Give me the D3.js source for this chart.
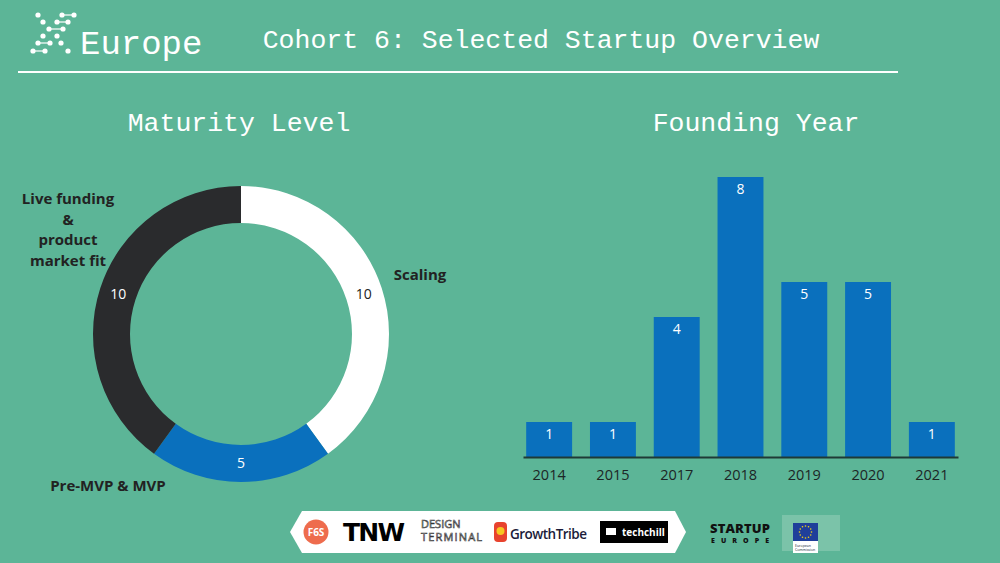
<!DOCTYPE html>
<html>
<head>
<meta charset="utf-8">
<script src="https://cdn.jsdelivr.net/npm/d3@7"></script>
<style>
  html, body { margin: 0; padding: 0; background: #5cb597; }
  svg { display: block; }
</style>
</head>
<body>
<svg id="chart" width="1000" height="563"></svg>
<script>
(function () {
    'use strict';

    // maturity level (donut)
    var maturityLabels = ['Scaling', 'Pre-MVP & MVP', 'Live funding & product market fit'];
    var maturityValues = [10, 5, 10];
    var maturityColors = ['#ffffff', '#0a70bd', '#2a2b2d'];

    // founding year (bars)
    var years = ['2014', '2015', '2017', '2018', '2019', '2020', '2021'];
    var yearCounts = [1, 1, 4, 8, 5, 5, 1];

    var bg = '#5cb597';
    var mono = '"Liberation Mono", "DejaVu Sans Mono", monospace';
    var sans = '"Open Sans", Lato, sans-serif';

    var svg = d3.select('#chart');
    svg.append('rect').attr('width', 1000).attr('height', 563).attr('fill', bg);

    // ---- header ----
    var dots = [[38,15],[62,15],[74,15],[43,22],[57,22],[68,22],[49,29],[63,29],
                [43,36],[57,36],[38,43],[50,43],[61,43],[33,51],[45,51],[68,51]];
    var links = [[62,74,15],[57,68,22],[49,63,29],[38,50,43],[33,45,51]];
    var logo = svg.append('g');
    logo.selectAll('line').data(links).enter().append('line')
        .attr('x1', function (d) { return d[0]; })
        .attr('x2', function (d) { return d[1]; })
        .attr('y1', function (d) { return d[2]; })
        .attr('y2', function (d) { return d[2]; })
        .attr('stroke', '#fff').attr('stroke-width', 1.2);
    logo.selectAll('circle').data(dots).enter().append('circle')
        .attr('cx', function (d) { return d[0]; })
        .attr('cy', function (d) { return d[1]; })
        .attr('r', 2.6).attr('fill', '#fff');

    svg.append('text').text('Europe')
        .attr('x', 80).attr('y', 54)
        .attr('font-family', mono).attr('font-size', 34)
        .attr('fill', '#fff');

    svg.append('text').text('Cohort 6: Selected Startup Overview')
        .attr('x', 541).attr('y', 48).attr('text-anchor', 'middle')
        .attr('font-family', mono).attr('font-size', 26.5)
        .attr('fill', '#fff');

    svg.append('line')
        .attr('x1', 18).attr('x2', 898).attr('y1', 72).attr('y2', 72)
        .attr('stroke', '#fff').attr('stroke-width', 2);

    svg.append('text').text('Maturity Level')
        .attr('x', 239).attr('y', 131).attr('text-anchor', 'middle')
        .attr('font-family', mono).attr('font-size', 26.5).attr('fill', '#fff');

    svg.append('text').text('Founding Year')
        .attr('x', 756).attr('y', 131).attr('text-anchor', 'middle')
        .attr('font-family', mono).attr('font-size', 26.5).attr('fill', '#fff');

    // ---- donut ----
    var cx = 241, cy = 334, rOut = 148, rIn = 111;
    var pie = d3.pie().sort(null).value(function (d) { return d; });
    var arcs = pie(maturityValues);
    var arc = d3.arc().innerRadius(rIn).outerRadius(rOut);
    var labelArc = d3.arc().innerRadius(129).outerRadius(129);

    var donut = svg.append('g').attr('transform', 'translate(' + cx + ',' + cy + ')');
    donut.selectAll('path').data(arcs).enter().append('path')
        .attr('d', arc)
        .attr('fill', function (d, i) { return maturityColors[i]; });

    donut.selectAll('text.val').data(arcs).enter().append('text')
        .attr('class', 'val')
        .attr('transform', function (d) { return 'translate(' + labelArc.centroid(d) + ')'; })
        .attr('dy', '0.35em')
        .attr('text-anchor', 'middle')
        .attr('font-family', sans).attr('font-size', 14).attr('font-weight', 500)
        .attr('fill', function (d, i) { return i === 0 ? '#222' : '#fff'; })
        .text(function (d) { return d.value; });

    // outside category labels
    var outer = [
        { lines: ['Scaling'], x: 420, y: 280, anchor: 'middle' },
        { lines: ['Pre-MVP & MVP'], x: 108, y: 491, anchor: 'middle' },
        { lines: ['Live funding', '&', 'product', 'market fit'], x: 68, y: 204, anchor: 'middle' }
    ];
    outer.forEach(function (o, i) {
        var t = svg.append('text')
            .attr('x', o.x).attr('y', o.y)
            .attr('text-anchor', o.anchor)
            .attr('font-family', sans).attr('font-size', 15).attr('font-weight', 700)
            .attr('fill', '#222');
        t.selectAll('tspan').data(o.lines).enter().append('tspan')
            .attr('x', o.x)
            .attr('dy', function (d, j) { return j === 0 ? 0 : 20.5; })
            .text(function (d) { return d; });
        t.attr('aria-label', maturityLabels[i]);
    });

    // ---- bar chart ----
    var x = d3.scaleBand().domain(years).range([523, 958])
        .paddingInner(0.28).paddingOuter(0.05);
    var y = d3.scaleLinear().domain([0, 8]).range([457, 177]);

    var bars = svg.append('g');
    bars.selectAll('rect').data(yearCounts).enter().append('rect')
        .attr('x', function (d, i) { return x(years[i]); })
        .attr('y', function (d) { return y(d); })
        .attr('width', x.bandwidth())
        .attr('height', function (d) { return y(0) - y(d); })
        .attr('fill', '#0a70bd');

    bars.selectAll('text').data(yearCounts).enter().append('text')
        .attr('x', function (d, i) { return x(years[i]) + x.bandwidth() / 2; })
        .attr('y', function (d) { return y(d) + 17; })
        .attr('text-anchor', 'middle')
        .attr('font-family', sans).attr('font-size', 14).attr('font-weight', 500)
        .attr('fill', '#fff')
        .text(function (d) { return d; });

    var axis = svg.append('g')
        .attr('transform', 'translate(0,' + y(0) + ')')
        .call(d3.axisBottom(x).tickSize(0).tickPadding(13));
    axis.select('.domain').attr('stroke', '#1f3a36').attr('stroke-width', 2);
    axis.selectAll('text')
        .attr('font-family', sans).attr('font-size', 14.5)
        .attr('fill', '#1c2626');

    // ---- footer logos ----
    var foot = svg.append('g');
    foot.append('polygon')
        .attr('points', '290,532 302,511 675,511 686,532 675,553 302,553')
        .attr('fill', '#fff');
    foot.append('circle').attr('cx', 316).attr('cy', 532).attr('r', 12.5).attr('fill', '#ee6c4d');
    foot.append('text').text('F6S').attr('x', 316).attr('y', 536).attr('text-anchor', 'middle')
        .attr('font-family', sans).attr('font-size', 10).attr('font-weight', 700).attr('fill', '#fff');
    foot.append('text').text('TNW').attr('x', 374).attr('y', 541).attr('text-anchor', 'middle')
        .attr('font-family', '"DejaVu Sans", sans-serif').attr('font-size', 25).attr('font-weight', 900)
        .attr('textLength', 62).attr('fill', '#000');
    foot.append('text').text('DESIGN').attr('x', 421).attr('y', 528)
        .attr('font-family', sans).attr('font-size', 11).attr('fill', '#fff')
        .attr('stroke', '#333').attr('stroke-width', 0.6);
    foot.append('text').text('TERMINAL').attr('x', 421).attr('y', 541)
        .attr('font-family', sans).attr('font-size', 11).attr('fill', '#fff')
        .attr('stroke', '#333').attr('stroke-width', 0.6).attr('textLength', 61);
    foot.append('rect').attr('x', 494).attr('y', 522).attr('width', 13).attr('height', 20)
        .attr('rx', 4).attr('fill', '#e8432e');
    foot.append('circle').attr('cx', 500.5).attr('cy', 531).attr('r', 4).attr('fill', '#f7c623');
    foot.append('text').text('GrowthTribe').attr('x', 510).attr('y', 539)
        .attr('font-family', sans).attr('font-size', 13.5).attr('font-weight', 600)
        .attr('textLength', 77).attr('fill', '#1c1c3a');
    foot.append('rect').attr('x', 600).attr('y', 521).attr('width', 68).attr('height', 22).attr('fill', '#000');
    foot.append('text').text('techchill').attr('x', 622).attr('y', 536)
        .attr('font-family', sans).attr('font-size', 10).attr('font-weight', 700).attr('fill', '#fff');
    foot.append('rect').attr('x', 606).attr('y', 528).attr('width', 10).attr('height', 7).attr('fill', '#fff');

    foot.append('text').text('STARTUP').attr('x', 710).attr('y', 533)
        .attr('font-family', sans).attr('font-size', 13).attr('font-weight', 800)
        .attr('textLength', 60).attr('fill', '#111');
    foot.append('text').text('EUROPE').attr('x', 711).attr('y', 543)
        .attr('font-family', sans).attr('font-size', 7).attr('font-weight', 800)
        .attr('textLength', 58).attr('fill', '#111');

    foot.append('rect').attr('x', 782).attr('y', 515).attr('width', 58).attr('height', 36)
        .attr('fill', '#8fcdb6').attr('opacity', 0.6);
    foot.append('rect').attr('x', 793).attr('y', 523).attr('width', 25).attr('height', 30).attr('fill', '#fff');
    foot.append('rect').attr('x', 793).attr('y', 523).attr('width', 25).attr('height', 18).attr('fill', '#1f3f9a');
    d3.range(12).forEach(function (k) {
        var a = k * Math.PI / 6;
        foot.append('circle').attr('cx', 805.5 + 6 * Math.cos(a)).attr('cy', 532 + 6 * Math.sin(a))
            .attr('r', 0.8).attr('fill', '#f5d315');
    });
    foot.append('text').text('European').attr('x', 795).attr('y', 547)
        .attr('font-family', sans).attr('font-size', 3.5).attr('fill', '#123');
    foot.append('text').text('Commission').attr('x', 795).attr('y', 551)
        .attr('font-family', sans).attr('font-size', 3.5).attr('fill', '#123');
})();
</script>
</body>
</html>
